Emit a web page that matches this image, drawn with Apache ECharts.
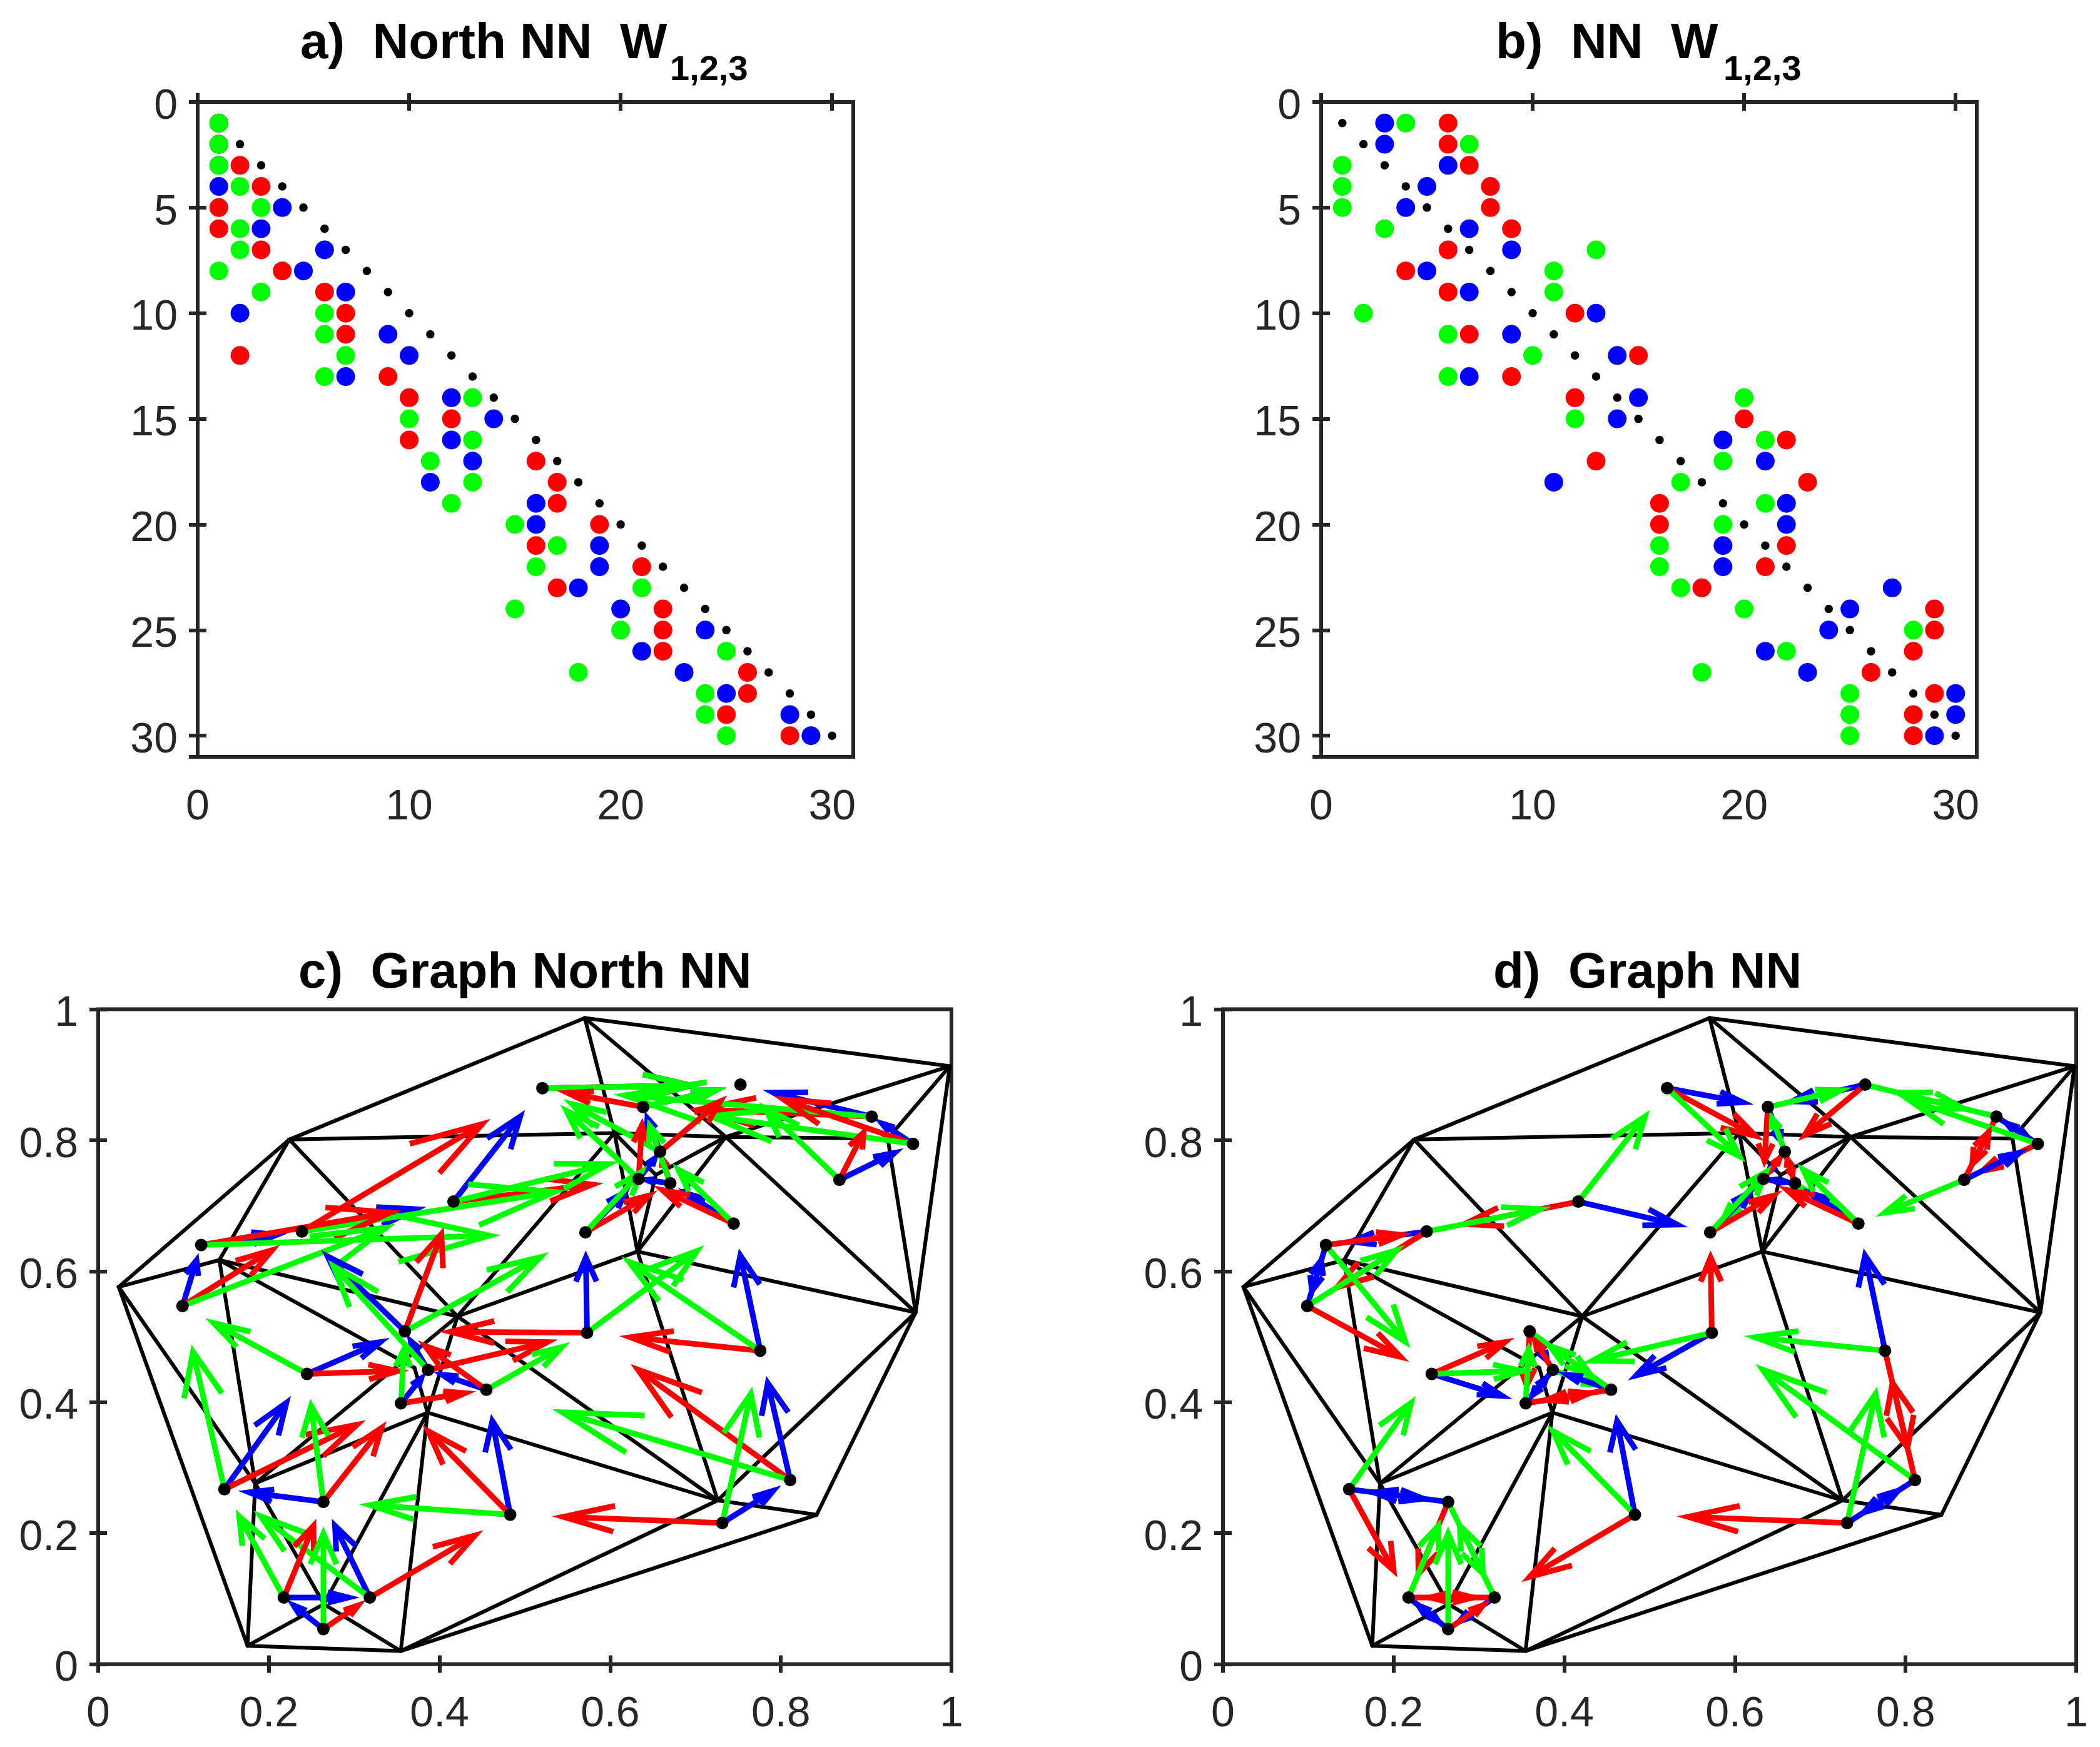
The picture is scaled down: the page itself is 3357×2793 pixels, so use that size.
<!DOCTYPE html>
<html><head><meta charset="utf-8">
<style>html,body{margin:0;padding:0;background:#fff}#c{width:3357px;height:2793px}</style>
<script src="https://cdn.jsdelivr.net/npm/echarts@6/dist/echarts.min.js"></script>
</head><body><div id="c"></div>
<script>
// Node index (row / column of the sparsity panels; nodes sorted top to bottom)
const nodeIndex = [1,2,3,4,5,6,7,8,9,10,11,12,13,14,15,16,17,18,19,20,21,22,23,24,25,26,27,28,29,30];
// Node positions in the graph panels
const nodeX = [.7527,.5206,.6386,.9065,.9549,.6585,.6333,.8687,.6704,.4164,.7447,.2387,.5710,.1207,.0988,.3594,.5729,.7759,.3866,.2447,.4549,.3548,.8110,.1479,.2639,.4828,.7314,.3183,.2175,.2639];
const nodeY = [.8849,.8795,.8507,.8360,.7945,.7825,.7410,.7396,.7343,.7062,.6727,.6606,.6593,.6399,.5469,.5080,.5060,.4786,.4491,.4431,.4190,.3983,.2811,.2671,.2477,.2282,.2155,.1017,.1017,.0535];
// Panel a: column of the W1, W2, W3 entry in each row
const northGreen = [1,1,1,2,3,2,2,1,3,6,6,7,6,13,10,13,11,13,12,15,17,16,21,15,20,25,18,24,24,25];
const northRed   = [1,1,2,3,1,1,3,4,6,7,7,2,9,10,12,10,16,17,17,19,16,21,17,22,22,22,26,26,25,28];
const northBlue  = [1,1,1,1,4,3,6,5,7,2,9,10,7,12,14,12,13,11,16,16,19,19,18,20,24,21,23,25,28,29];
// Panel b
const nnGreen = [4,7,1,1,1,3,13,11,11,2,6,10,6,20,12,21,19,17,21,19,16,16,17,20,28,22,18,25,25,25];
const nnRed   = [6,6,7,8,8,9,6,4,6,12,7,15,9,12,20,22,13,23,16,16,22,21,18,29,29,28,26,29,28,28];
const nnBlue  = [3,3,6,5,4,7,9,5,7,13,9,14,7,15,14,19,21,11,22,22,19,19,27,25,24,21,23,30,30,29];
// Triangulation (black mesh) vertices
const meshNames = ['A','B','C','D','E','F','G','H','I','J','K','L','M','N','O','P','R','V','W','Z'];
const meshX = [.5703,.998,.224,.605,.7355,.632,.142,.024,.421,.958,.386,.184,.726,.842,.175,.3546,.2645,.9253,.6535,.3707];
const meshY = [.9866,.913,.801,.811,.805,.63,.617,.576,.531,.537,.384,.276,.25,.228,.028,.02,.0916,.8025,.747,.4523];
const meshEdges = ['AB','AC','AD','AE','BE','BV','BJ','CD','DE','EV','VJ','EJ','EW','DW','FW','FE','FD','ID','FI','FJ','FM','CI','CG','CH','HG','GI','GL','GZ','ZK','IM','KM','KL','KP','KR','LR','RO','RP','OP','LO','HL','HO','MP','NP','MN','MJ','NJ','IL','IK'];
// Titles
const titles = ['a)  North NN  W','b)  NN  W','c)  Graph North NN','d)  Graph NN'];
const subscript = '1,2,3';

const INK='#262626', RED='#ff0000', GREEN='#00ff00', BLUE='#0000ff';
const QUIVER=0.75, ALPHA=0.32, BETA=0.33;
const FONT='"Liberation Sans"';
const grids=[
 {left:316,top:163,width:1048,height:1047},
 {left:2112,top:163,width:1048,height:1047},
 {left:157,top:1613.5,width:1364,height:1047},
 {left:1955,top:1613.5,width:1364,height:1047}
];
function axis(kind,g,pos,labelled,sparse){
  const font={fontFamily:FONT,fontSize:68,color:INK};
  const label=Object.assign({show:labelled,margin:kind==='x'?47:32,showMaxLabel:!sparse},font);
  if(kind==='y'){
    label.formatter=v=>'{v|'+String(+v.toFixed(1))+'}';
    label.rich={v:Object.assign({padding:[16,0,0,0]},font)};
  } else {
    label.formatter=v=>String(+v.toFixed(1));
  }
  return {type:'value',gridIndex:g,position:pos,min:0,max:sparse?31:1,
    interval:sparse?(kind==='x'?10:5):0.2,inverse:(sparse&&kind==='y'),
    splitLine:{show:false},axisLine:{show:false},
    axisTick:{show:true,inside:true,length:14,lineStyle:{color:INK,width:6}},
    axisLabel:label};
}
const xAxes=[],yAxes=[];
[true,true,false,false].forEach((s,i)=>{
  xAxes.push(axis('x',i,'bottom',true,s),axis('x',i,'top',false,s));
  yAxes.push(axis('y',i,'left',true,s),axis('y',i,'right',false,s));
});
const prim=i=>({xAxisIndex:2*i,yAxisIndex:2*i});
function scatter(i,cols,color,size,z){
  return Object.assign({type:'scatter',symbol:'circle',symbolSize:size,silent:true,z:z,
    itemStyle:{color:color,opacity:1},data:cols.map((c,k)=>[c,nodeIndex[k]])},prim(i));
}
function segRender(color,width){
  return function(p,api){
    const a=api.coord([api.value(0),api.value(1)]),b=api.coord([api.value(2),api.value(3)]);
    return {type:'line',shape:{x1:a[0],y1:a[1],x2:b[0],y2:b[1]},silent:true,
      style:{stroke:color,lineWidth:width,fill:'none',lineCap:'round'}};
  };
}
const PALETTE=[BLUE,RED,GREEN];
function arrowRender(width){
  return function(p,api){
    const x0=api.value(0),y0=api.value(1),u=api.value(2),v=api.value(3);
    const x1=x0+u,y1=y0+v;
    const t=api.coord([x0,y0]),h=api.coord([x1,y1]);
    const b1=api.coord([x1-ALPHA*(u+BETA*v),y1-ALPHA*(v-BETA*u)]);
    const b2=api.coord([x1-ALPHA*(u-BETA*v),y1-ALPHA*(v+BETA*u)]);
    const st={stroke:PALETTE[api.value(4)],lineWidth:width,fill:'none',lineJoin:'miter',miterLimit:10,lineCap:'butt'};
    return {type:'group',silent:true,children:[
      {type:'polyline',shape:{points:[t,h]},style:st},
      {type:'polyline',shape:{points:[b1,h,b2]},style:st}]};
  };
}
// One series per panel: for every node in turn, its blue, red then green arrow
function arrows(i,blue,red,green){
  const data=[];
  nodeIndex.forEach((n,k)=>{
    [blue,red,green].forEach((cols,ci)=>{
      const j=cols[k]-1; if(j===k)return;
      data.push([nodeX[k],nodeY[k],QUIVER*(nodeX[j]-nodeX[k]),QUIVER*(nodeY[j]-nodeY[k]),ci]);
    });
  });
  return Object.assign({type:'custom',z:4,clip:false,renderItem:arrowRender(9),
    encode:{x:0,y:1},data:data},prim(i));
}
function mesh(i){
  const data=meshEdges.map(e=>{const a=meshNames.indexOf(e[0]),b=meshNames.indexOf(e[1]);
    return [meshX[a],meshY[a],meshX[b],meshY[b]];});
  return Object.assign({type:'custom',z:2,renderItem:segRender('#000',6),encode:{x:[0,2],y:[1,3]},data:data},prim(i));
}
function dots(i){
  return Object.assign({type:'scatter',symbol:'circle',symbolSize:20,silent:true,z:10,
    itemStyle:{color:'#000',opacity:1},data:nodeX.map((x,k)=>[x,nodeY[k]])},prim(i));
}
const series=[
 scatter(0,nodeIndex,'#000',13.5,2),scatter(0,northBlue,BLUE,30,3),scatter(0,northRed,RED,30,4),scatter(0,northGreen,GREEN,30,5),
 scatter(1,nodeIndex,'#000',13.5,2),scatter(1,nnBlue,BLUE,30,3),scatter(1,nnRed,RED,30,4),scatter(1,nnGreen,GREEN,30,5),
 mesh(2),arrows(2,northBlue,northRed,northGreen),dots(2),
 mesh(3),arrows(3,nnBlue,nnRed,nnGreen),dots(3)
];
const tStyle=(s)=>({fontFamily:FONT,fontWeight:'bold',fontSize:s,color:'#000'});
const title=[
 {text:titles[0],left:475,top:26,textStyle:tStyle(80)},
 {text:subscript,left:1066,top:80,textStyle:tStyle(56)},
 {text:titles[1],left:2386,top:26,textStyle:tStyle(80)},
 {text:subscript,left:2750,top:80,textStyle:tStyle(56)},
 {text:titles[2],left:472,top:1512,textStyle:tStyle(80)},
 {text:titles[3],left:2382,top:1512,textStyle:tStyle(80)}
];
const chart=echarts.init(document.getElementById('c'),null,{width:3357,height:2793,renderer:'canvas'});
chart.setOption({animation:false,backgroundColor:'#fff',title:title,
  grid:grids.map(g=>Object.assign({show:true,borderColor:INK,borderWidth:6,backgroundColor:'transparent',containLabel:false},g)),
  xAxis:xAxes,yAxis:yAxes,series:series});
</script></body></html>
